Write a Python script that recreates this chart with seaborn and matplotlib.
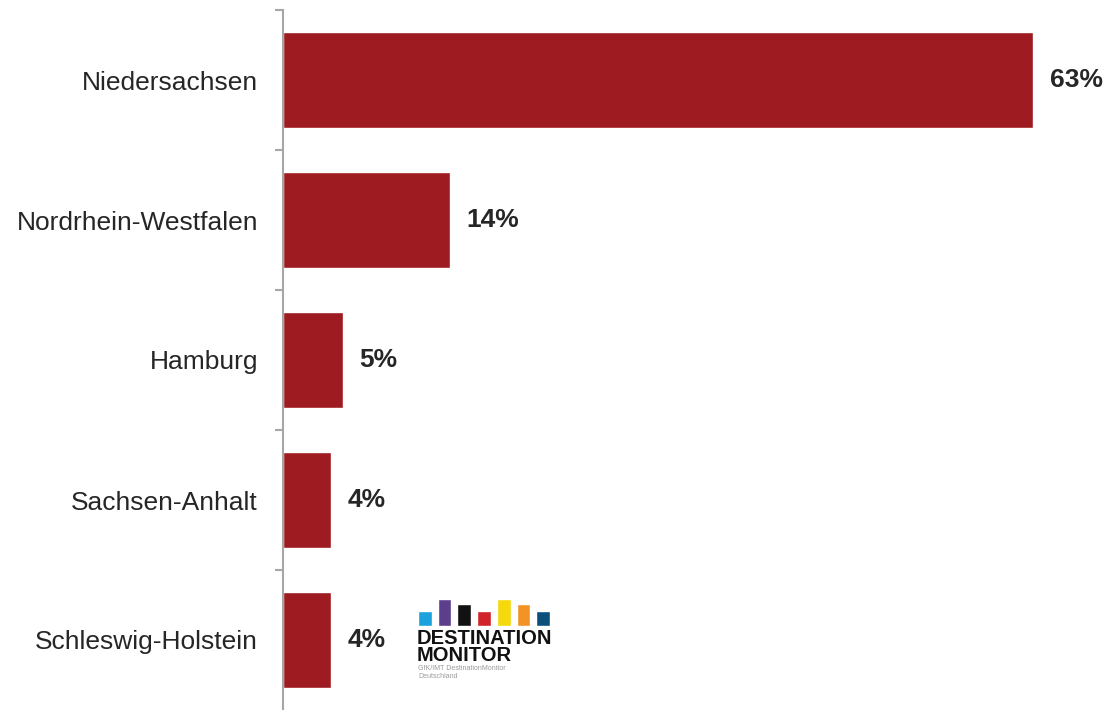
import matplotlib
matplotlib.use("Agg")
import matplotlib.pyplot as plt
import seaborn as sns
import pandas as pd

# Share of visitors by federal state of origin (%)
states = ["Niedersachsen", "Nordrhein-Westfalen", "Hamburg", "Sachsen-Anhalt", "Schleswig-Holstein"]
shares = [63, 14, 5, 4, 4]

# Logo bar colours and heights
logo_colors = ["#1BA1DB", "#5B3E8C", "#111111", "#D0232A", "#F5D90A", "#F39325", "#0B4F7A"]
logo_heights = [15, 27, 22, 15, 27, 22, 15]

BAR_COLOR = "#9E1B22"
TEXT_COLOR = "#262626"
AXIS_COLOR = "#A6A6A6"

sns.set_theme(style="white")
plt.rcParams["font.family"] = ["Liberation Sans", "DejaVu Sans"]

df = pd.DataFrame({"state": states, "share": shares})

W, H, DPI = 1106, 710, 100
fig = plt.figure(figsize=(W / DPI, H / DPI), dpi=DPI)
ax = fig.add_axes([283 / W, 0.0, (1033 - 283) / W, 700 / H])

sns.barplot(data=df, x="share", y="state", orient="h", color=BAR_COLOR,
            width=0.68, saturation=1, ax=ax)

ax.set_xlim(0, 63)
ax.set_ylim(len(states) - 0.5, -0.5)
ax.set_xlabel("")
ax.set_ylabel("")
ax.set_xticks([])

for side in ("top", "right", "bottom"):
    ax.spines[side].set_visible(False)
ax.spines["left"].set_color(AXIS_COLOR)
ax.spines["left"].set_linewidth(1.5)

# Category labels without ticks; short ticks between categories
ax.tick_params(axis="y", which="major", length=0, pad=18, labelsize=19, labelcolor=TEXT_COLOR)
ax.set_yticks([i - 0.5 for i in range(len(states))], minor=True)
ax.tick_params(axis="y", which="minor", length=6, width=1.5, color=AXIS_COLOR, direction="out", left=True)

# Value labels to the right of each bar
for i, v in enumerate(shares):
    ax.annotate(f"{v}%", xy=(v, i), xytext=(12, 0), textcoords="offset points",
                ha="left", va="center", fontsize=19, fontweight="bold",
                color=TEXT_COLOR, annotation_clip=False)

# DestinationMonitor logo
lax = fig.add_axes([418 / W, 1 - 626 / H, (550 - 418) / W, (626 - 598) / H])
lax.bar(range(len(logo_colors)), logo_heights, color=logo_colors, width=0.7, align="center")
lax.set_xlim(-0.35, len(logo_colors) - 0.65)
lax.set_ylim(0, 28)
lax.axis("off")

fig.text(417 / W, 1 - 629 / H, "DESTINATION\nMONITOR", fontsize=14.5, fontweight="heavy",
         color="#111111", ha="left", va="top", linespacing=0.85)
fig.text(418 / W, 1 - 665 / H, "GfK/IMT DestinationMonitor\nDeutschland", fontsize=5,
         color="#9A9A9A", ha="left", va="top", linespacing=1.1)

fig.savefig("out.png", dpi=DPI, facecolor="white")
